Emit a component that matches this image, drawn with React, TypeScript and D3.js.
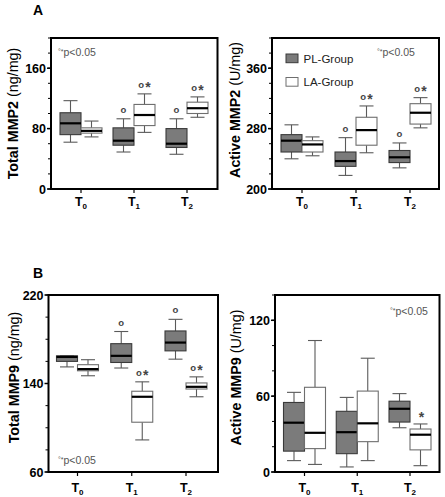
import React from "react";
import * as d3 from "d3";

// Categories (time points) rendered as T with subscript
const categories = ["T0", "T1", "T2"];
const subscripts = ["0", "1", "2"];
const groups = ["PL-Group", "LA-Group"];

// Box statistics: [min, q1, median, q3, max]
const totalMMP2_PL = [[62, 72, 87, 101, 117], [49, 58, 64, 81, 93], [46, 55, 60, 80, 93]];
const totalMMP2_LA = [[69, 74, 77, 81, 90], [75, 84, 98, 112, 126], [95, 100, 107, 115, 122]];
const activeMMP2_PL = [[240, 249, 264, 272, 285], [218, 230, 237, 249, 268], [228, 235, 242, 251, 261]];
const activeMMP2_LA = [[244, 249, 259, 264, 269], [248, 258, 278, 295, 310], [281, 286, 301, 313, 321]];
const totalMMP9_PL = [[155, 160, 164, 165, 165], [154, 159, 165, 176, 187], [162, 169.5, 177, 187.5, 198]];
const totalMMP9_LA = [[147, 151.5, 153, 157, 161.5], [89, 105, 128, 133, 141.5], [128, 135, 137, 140.5, 146]];
const activeMMP9_PL = [[9, 16.5, 39, 55, 63], [4, 14.5, 31.5, 48, 59], [35, 39.5, 50, 56, 62]];
const activeMMP9_LA = [[6, 18.5, 31, 67, 104], [9, 24, 38.5, 64, 90], [5, 17.5, 29.5, 34, 38]];

// Significance annotations
const annMMP2_PL = ["", "o", "o"];
const annMMP2_LA = ["", "o*", "o*"];
const annTotalMMP9_PL = ["", "o", "o"];
const annTotalMMP9_LA = ["", "o*", "o*"];
const annActiveMMP9_PL = ["", "", ""];
const annActiveMMP9_LA = ["", "", "*"];

// Axis ticks
const ticksTotalMMP2 = [0, 80, 160];
const ticksActiveMMP2 = [200, 280, 360];
const ticksTotalMMP9 = [60, 140, 220];
const ticksActiveMMP9 = [0, 60, 120];

const FONT = "'Liberation Sans', Arial, Helvetica, sans-serif";
const PL_FILL = "#7b7b7b";
const PL_STROKE = "#3a3a3a";
const LA_FILL = "#ffffff";
const LA_STROKE = "#6e6e6e";
const WHISKER = "#5a5a5a";

function Annotation({ x, y, text }) {
  if (!text) return null;
  const parts = text.split("");
  return (
    <text x={x} y={y} textAnchor="middle" fontFamily={FONT} fontWeight="bold" fill="#444">
      {parts.map((p, i) =>
        p === "o" ? (
          <tspan key={i} fontSize={9.5}>o</tspan>
        ) : (
          <tspan key={i} fontSize={14} dy={4.5} dx={1}>*</tspan>
        )
      )}
    </text>
  );
}

function PValue({ x, y }) {
  return (
    <text x={x} y={y} fontFamily={FONT} fill="#555" fontSize={10.5}>
      <tspan fontSize={7} dy={-2.5}>°*</tspan>
      <tspan dy={2.5}>p&lt;0.05</tspan>
    </text>
  );
}

function Panel(props) {
  const {
    left, top, right, bottom, domain, majors, pl, la, annPL, annLA,
    title, unit, titleX, titleY, padL, padR, xLabelDy, pX, pY, legend,
  } = props;
  const y = d3.scaleLinear().domain(domain).range([bottom, top]);
  const x = d3.scalePoint().domain(categories).range([left + padL, right - padR]);
  const bw = 21;
  const cap = 14;
  const minors = d3.range(domain[0], domain[1] + 0.001, 20);

  const renderBox = (stats, cx, fill, stroke, key) => {
    const [mn, q1, md, q3, mx] = stats;
    const bx = cx - bw / 2;
    return (
      <g key={key}>
        <line x1={cx} x2={cx} y1={y(mx)} y2={y(q3)} stroke={WHISKER} strokeWidth={1.1} />
        <line x1={cx} x2={cx} y1={y(q1)} y2={y(mn)} stroke={WHISKER} strokeWidth={1.1} />
        <line x1={cx - cap / 2} x2={cx + cap / 2} y1={y(mx)} y2={y(mx)} stroke={WHISKER} strokeWidth={1.1} />
        <line x1={cx - cap / 2} x2={cx + cap / 2} y1={y(mn)} y2={y(mn)} stroke={WHISKER} strokeWidth={1.1} />
        <rect x={bx} y={y(q3)} width={bw} height={y(q1) - y(q3)} fill={fill} stroke={stroke} strokeWidth={1.1} />
        <line x1={bx} x2={bx + bw} y1={y(md)} y2={y(md)} stroke="#000" strokeWidth={2.2} />
      </g>
    );
  };

  return (
    <g>
      {/* minor ticks */}
      {minors.map((v) => (
        <line key={"mi" + v} x1={left - 3} x2={left} y1={y(v)} y2={y(v)} stroke="#000" strokeWidth={1} />
      ))}
      {majors.map((v) => (
        <g key={"ma" + v}>
          <line x1={left - 4} x2={left} y1={y(v)} y2={y(v)} stroke="#000" strokeWidth={1.5} />
          <text x={left - 5} y={y(v)} dy="0.36em" textAnchor="end" fontFamily={FONT} fontWeight="bold" fontSize={12.5} fill="#000">
            {v}
          </text>
        </g>
      ))}
      {/* boxes */}
      {categories.map((c, i) => {
        const cx = x(c);
        return (
          <g key={c}>
            {renderBox(pl[i], cx - bw / 2, PL_FILL, PL_STROKE, "pl")}
            {renderBox(la[i], cx + bw / 2, LA_FILL, LA_STROKE, "la")}
            <Annotation x={cx - bw / 2} y={y(pl[i][4]) - 6} text={annPL[i]} />
            <Annotation x={cx + bw / 2} y={y(la[i][4]) - 6} text={annLA[i]} />
            <line x1={cx} x2={cx} y1={bottom} y2={bottom + 4} stroke="#000" strokeWidth={1.2} />
            <text x={cx} y={bottom + xLabelDy} textAnchor="middle" fontFamily={FONT} fontWeight="bold" fontSize={12.5} fill="#000">
              T<tspan fontSize={8} dy={2.5}>{subscripts[i]}</tspan>
            </text>
          </g>
        );
      })}
      {/* frame */}
      <rect x={left} y={top} width={right - left} height={bottom - top} fill="none" stroke="#000" strokeWidth={2} />
      {/* axis title */}
      <text
        transform={`translate(${titleX},${titleY}) rotate(-90)`}
        textAnchor="middle"
        dy="0.35em"
        fontFamily={FONT}
        fontSize={14.3}
        fill="#000"
      >
        <tspan fontWeight="bold">{title} </tspan>
        <tspan fontWeight="normal">{unit}</tspan>
      </text>
      <PValue x={pX} y={pY} />
      {legend && (
        <g fontFamily={FONT}>
          {groups.map((g, i) => (
            <g key={g}>
              <rect x={left + 14} y={top + 16 + i * 23.5} width={12} height={8.7}
                fill={i === 0 ? PL_FILL : LA_FILL} stroke={i === 0 ? PL_STROKE : LA_STROKE} strokeWidth={1} />
              <text x={left + 31.5} y={top + 20.5 + i * 23.5} dy="0.35em" fontSize={11.5} fill="#222">
                {g}
              </text>
            </g>
          ))}
        </g>
      )}
    </g>
  );
}

export default function App() {
  return (
    <svg width={445} height={497} style={{ position: "absolute", left: 0, top: 0, background: "#fff" }}>
      <rect width={445} height={497} fill="#fff" />
      <text x={38} y={15} textAnchor="middle" fontFamily={FONT} fontWeight="bold" fontSize={14}>A</text>
      <text x={38} y={278} textAnchor="middle" fontFamily={FONT} fontWeight="bold" fontSize={14}>B</text>
      <Panel
        left={51} top={38} right={217.5} bottom={189} domain={[0, 200]} majors={ticksTotalMMP2}
        pl={totalMMP2_PL} la={totalMMP2_LA} annPL={annMMP2_PL} annLA={annMMP2_LA}
        title="Total MMP2" unit="(ng/mg)" titleX={13} titleY={113.5}
        padL={30} padR={30.5} xLabelDy={17} pX={58} pY={56}
      />
      <Panel
        left={272} top={38} right={439} bottom={189} domain={[200, 400]} majors={ticksActiveMMP2}
        pl={activeMMP2_PL} la={activeMMP2_LA} annPL={annMMP2_PL} annLA={annMMP2_LA}
        title="Active MMP2" unit="(U/mg)" titleX={235} titleY={110}
        padL={30} padR={29} xLabelDy={17} pX={377} pY={56} legend
      />
      <Panel
        left={48.5} top={295} right={218} bottom={472} domain={[60, 220]} majors={ticksTotalMMP9}
        pl={totalMMP9_PL} la={totalMMP9_LA} annPL={annTotalMMP9_PL} annLA={annTotalMMP9_LA}
        title="Total MMP9" unit="(ng/mg)" titleX={14} titleY={377.5}
        padL={29} padR={32} xLabelDy={20} pX={58} pY={464}
      />
      <Panel
        left={275} top={295} right={439.5} bottom={472} domain={[0, 140]} majors={ticksActiveMMP9}
        pl={activeMMP9_PL} la={activeMMP9_LA} annPL={annActiveMMP9_PL} annLA={annActiveMMP9_LA}
        title="Active MMP9" unit="(U/mg)" titleX={236} titleY={377.5}
        padL={29.5} padR={29.5} xLabelDy={20} pX={390} pY={315}
      />
    </svg>
  );
}
